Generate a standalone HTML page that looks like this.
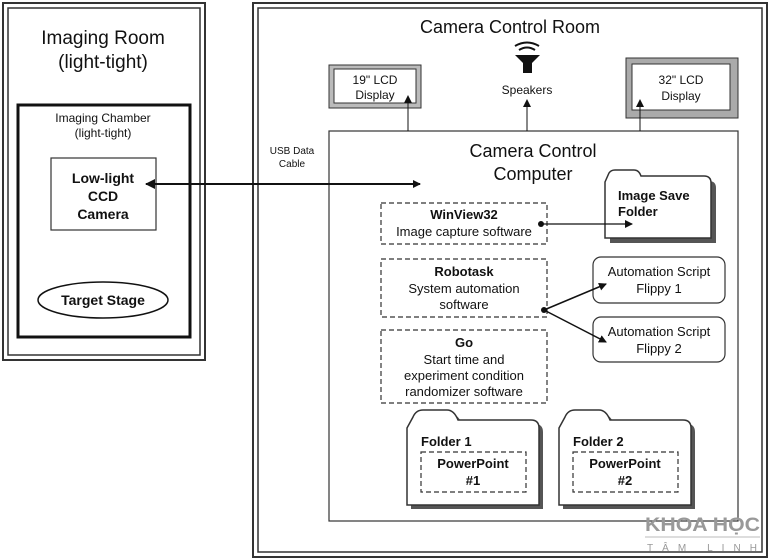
<!DOCTYPE html>
<html><head><meta charset="utf-8"><style>
body{margin:0;background:#fff}
svg{display:block}
text{font-family:"Liberation Sans",sans-serif;fill:#111}
.b{font-weight:bold}
</style></head><body>
<svg width="770" height="560" viewBox="0 0 770 560">
<defs>
<marker id="ah" markerWidth="8" markerHeight="8" refX="7" refY="4" orient="auto" markerUnits="userSpaceOnUse"><path d="M0,0 L8,4 L0,8 z" fill="#111"/></marker>
<marker id="ahs" markerWidth="10" markerHeight="10" refX="1" refY="5" orient="auto" markerUnits="userSpaceOnUse"><path d="M10,0 L0,5 L10,10 z" fill="#111"/></marker>
</defs>
<rect x="3" y="3" width="202" height="357" fill="none" stroke="#333" stroke-width="2"/>
<rect x="8" y="8" width="192" height="347" fill="none" stroke="#333" stroke-width="1.5"/>
<text x="103" y="44" font-size="19" text-anchor="middle">Imaging Room</text>
<text x="103" y="68" font-size="19" text-anchor="middle">(light-tight)</text>
<rect x="18" y="105" width="172" height="232" fill="none" stroke="#111" stroke-width="3"/>
<text x="103" y="122" font-size="12" text-anchor="middle" fill="#333">Imaging Chamber</text>
<text x="103" y="137" font-size="12" text-anchor="middle" fill="#333">(light-tight)</text>
<rect x="51" y="158" width="105" height="72" fill="#fff" stroke="#333" stroke-width="1.2"/>
<text x="103" y="183" font-size="14" class="b" text-anchor="middle">Low-light</text>
<text x="103" y="201" font-size="14" class="b" text-anchor="middle">CCD</text>
<text x="103" y="219" font-size="14" class="b" text-anchor="middle">Camera</text>
<ellipse cx="103" cy="300" rx="65" ry="18" fill="#fff" stroke="#111" stroke-width="1.5"/>
<text x="103" y="305" font-size="14" class="b" text-anchor="middle">Target Stage</text>
<rect x="253" y="3" width="514" height="554" fill="none" stroke="#333" stroke-width="2"/>
<rect x="258" y="8" width="504" height="544" fill="none" stroke="#333" stroke-width="1.5"/>
<text x="510" y="33" font-size="18" text-anchor="middle">Camera Control Room</text>
<text x="292" y="154" font-size="10" text-anchor="middle" fill="#333">USB Data</text>
<text x="292" y="167" font-size="10" text-anchor="middle" fill="#333">Cable</text>
<rect x="329" y="65" width="92" height="43" fill="#bbb" stroke="#333"/>
<rect x="334" y="69" width="82" height="34" fill="#fff" stroke="#333"/>
<text x="375" y="84" font-size="12" text-anchor="middle">19" LCD</text>
<text x="375" y="99" font-size="12" text-anchor="middle">Display</text>
<rect x="626" y="58" width="112" height="60" fill="#aaa" stroke="#333"/>
<rect x="632" y="64" width="98" height="46" fill="#fff" stroke="#333"/>
<text x="681" y="84" font-size="12" text-anchor="middle">32" LCD</text>
<text x="681" y="100" font-size="12" text-anchor="middle">Display</text>
<path d="M515,55 L540,55 L532,63 L532,73 L523,73 L523,63 Z" fill="#111"/>
<path d="M519,50 Q527,45 535,50" fill="none" stroke="#111" stroke-width="2"/>
<path d="M515,46 Q527,39 539,46" fill="none" stroke="#111" stroke-width="2"/>
<text x="527" y="94" font-size="12" text-anchor="middle">Speakers</text>
<rect x="329" y="131" width="409" height="390" fill="none" stroke="#333" stroke-width="1.2"/>
<text x="533" y="157" font-size="18" text-anchor="middle">Camera Control</text>
<text x="533" y="180" font-size="18" text-anchor="middle">Computer</text>
<line x1="408" y1="131" x2="408" y2="96" stroke="#111" marker-end="url(#ah)"/>
<line x1="527" y1="131" x2="527" y2="100" stroke="#111" marker-end="url(#ah)"/>
<line x1="640" y1="131" x2="640" y2="100" stroke="#111" marker-end="url(#ah)"/>
<line x1="146" y1="184" x2="420" y2="184" stroke="#111" stroke-width="2" marker-start="url(#ahs)" marker-end="url(#ah)"/>
<g fill="none" stroke="#333" stroke-dasharray="5,3" stroke-width="1.2">
<rect x="381" y="203" width="166" height="41"/>
<rect x="381" y="259" width="166" height="58"/>
<rect x="381" y="330" width="166" height="73"/>
</g>
<text x="464" y="219" font-size="13" class="b" text-anchor="middle">WinView32</text>
<text x="464" y="236" font-size="13" text-anchor="middle">Image capture software</text>
<text x="464" y="276" font-size="13" class="b" text-anchor="middle">Robotask</text>
<text x="464" y="293" font-size="13" text-anchor="middle">System automation</text>
<text x="464" y="309" font-size="13" text-anchor="middle">software</text>
<text x="464" y="347" font-size="13" class="b" text-anchor="middle">Go</text>
<text x="464" y="364" font-size="13" text-anchor="middle">Start time and</text>
<text x="464" y="380" font-size="13" text-anchor="middle">experiment condition</text>
<text x="464" y="396" font-size="13" text-anchor="middle">randomizer software</text>
<path d="M605,182 L609,173 Q611,170 615,170 L634,170 Q639,170 641,176 L704,176 Q711,176 711,183 L711,238 L605,238 Z" fill="#555" transform="translate(5,5)"/>
<path d="M605,182 L609,173 Q611,170 615,170 L634,170 Q639,170 641,176 L704,176 Q711,176 711,183 L711,238 L605,238 Z" fill="#fff" stroke="#333" stroke-width="1.5"/>
<text x="618" y="200" font-size="13" class="b">Image Save</text>
<text x="618" y="216" font-size="13" class="b">Folder</text>
<circle cx="541" cy="224" r="3" fill="#111"/>
<line x1="541" y1="224" x2="632" y2="224" stroke="#111" stroke-width="1.2" marker-end="url(#ah)"/>
<rect x="593" y="257" width="132" height="46" rx="8" fill="#fff" stroke="#333" stroke-width="1.2"/>
<text x="659" y="276" font-size="13" text-anchor="middle">Automation Script</text>
<text x="659" y="293" font-size="13" text-anchor="middle">Flippy 1</text>
<rect x="593" y="317" width="132" height="45" rx="8" fill="#fff" stroke="#333" stroke-width="1.2"/>
<text x="659" y="336" font-size="13" text-anchor="middle">Automation Script</text>
<text x="659" y="353" font-size="13" text-anchor="middle">Flippy 2</text>
<circle cx="544" cy="310" r="3" fill="#111"/>
<line x1="544" y1="310" x2="606" y2="284" stroke="#111" stroke-width="1.5" marker-end="url(#ah)"/>
<line x1="544" y1="310" x2="606" y2="342" stroke="#111" stroke-width="1.5" marker-end="url(#ah)"/>
<g>
<path d="M407,428 L413,417 Q416,410 423,410 L447,410 Q454,410 458,420 L531,420 Q539,420 539,428 L539,505 L407,505 Z" fill="#555" transform="translate(4,4)"/>
<path d="M407,428 L413,417 Q416,410 423,410 L447,410 Q454,410 458,420 L531,420 Q539,420 539,428 L539,505 L407,505 Z" fill="#fff" stroke="#333" stroke-width="1.5"/>
<text x="421" y="446" font-size="13" class="b">Folder 1</text>
<rect x="421" y="452" width="105" height="40" fill="none" stroke="#333" stroke-dasharray="5,3" stroke-width="1.2"/>
<text x="473" y="468" font-size="13" class="b" text-anchor="middle">PowerPoint</text>
<text x="473" y="485" font-size="13" class="b" text-anchor="middle">#1</text>
</g>
<g transform="translate(152,0)">
<path d="M407,428 L413,417 Q416,410 423,410 L447,410 Q454,410 458,420 L531,420 Q539,420 539,428 L539,505 L407,505 Z" fill="#555" transform="translate(4,4)"/>
<path d="M407,428 L413,417 Q416,410 423,410 L447,410 Q454,410 458,420 L531,420 Q539,420 539,428 L539,505 L407,505 Z" fill="#fff" stroke="#333" stroke-width="1.5"/>
<text x="421" y="446" font-size="13" class="b">Folder 2</text>
<rect x="421" y="452" width="105" height="40" fill="none" stroke="#333" stroke-dasharray="5,3" stroke-width="1.2"/>
<text x="473" y="468" font-size="13" class="b" text-anchor="middle">PowerPoint</text>
<text x="473" y="485" font-size="13" class="b" text-anchor="middle">#2</text>
</g>
<text x="645" y="531" font-size="19" class="b" textLength="115" lengthAdjust="spacingAndGlyphs" style="fill:#999">KHOA HỌC</text>
<line x1="645" y1="537" x2="760" y2="537" stroke="#bbb"/>
<text x="647" y="551" font-size="10" textLength="110" lengthAdjust="spacing" style="fill:#999">TÂM LINH</text>
</svg>
</body></html>
